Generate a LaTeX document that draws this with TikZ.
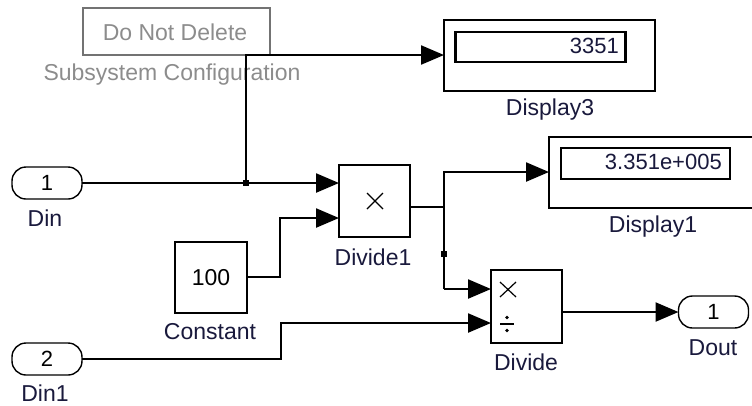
\documentclass[tikz,border=0pt]{standalone}
\usepackage{fontspec}
\setmainfont{Liberation Sans}
\usetikzlibrary{arrows.meta}
\definecolor{lbl}{RGB}{25,25,60}
\definecolor{gtext}{RGB}{140,140,140}
\definecolor{gbox}{RGB}{115,115,115}
\tikzset{
  blk/.style={draw=black, line width=2.2pt, fill=white, inner sep=0pt, outer sep=0pt},
  port/.style={draw=black, line width=1.4pt, rounded corners=14pt, inner sep=0pt, outer sep=0pt, minimum width=70pt, minimum height=32pt, font=\fontsize{22}{24}\selectfont},
  lab/.style={text=lbl, font=\fontsize{23}{26}\selectfont, inner sep=0pt},
  sig/.style={draw=black, line width=2.3pt},
  sigar/.style={sig, -{Triangle[length=23pt,width=19pt]}},
  dot/.style={fill=black, minimum size=6.5pt, inner sep=0pt, draw=none},
  sym/.style={line width=1.2pt}
}
\begin{document}
\begin{tikzpicture}[x=1pt,y=-1pt]
\useasboundingbox (0,0) rectangle (752,405);
\clip (0,0) rectangle (752,405);
% config block
\node[draw=gbox, line width=1.4pt, minimum width=187pt, minimum height=47pt, inner sep=0pt] (dnd) at (176.5,31.5) {};
\node[text=gtext, font=\fontsize{23}{26}\selectfont] (dndt) at (175,32) {Do Not Delete};
\node[text=gtext, font=\fontsize{23}{26}\selectfont] (subc) at (172,75) {Subsystem Configuration};
% ports
\node[port] (din) at (47,183) {1};
\node[lab] (dinl) at (45,218) {Din};
\node[port] (din1) at (47,359) {2};
\node[lab] (din1l) at (45,393) {Din1};
\node[port] (dout) at (713.5,312) {1};
\node[lab] (doutl) at (713,348) {Dout};
% constant
\node[blk, minimum width=72pt, minimum height=71pt, font=\fontsize{23}{26}\selectfont] (const) at (211,277.5) {100};
\node[lab] (constl) at (210,332) {Constant};
% Divide1
\node[blk, minimum width=71pt, minimum height=72pt] (div1) at (374.5,201) {};
\draw[sym] (367,193) -- (383,209) (383,193) -- (367,209);
\node[lab] (div1l) at (373,257) {Divide1};
% Divide
\node[blk, minimum width=71pt, minimum height=73pt] (div) at (526.5,306.5) {};
\draw[sym] (500,282) -- (516,297) (516,282) -- (500,297);
\draw[sym] (500,324) -- (514,324);
\fill (507,317.5) circle (1.9pt) (507,330.5) circle (1.9pt);
\node[lab] (divl) at (526,362) {Divide};
% Display3
\node[blk, minimum width=211pt, minimum height=71pt] (disp3) at (549.5,55.5) {};
\node[draw=black, line width=2.2pt, minimum width=170pt, minimum height=30pt, inner sep=0pt] (disp3in) at (540.5,47) {};
\node[anchor=east, font=\fontsize{22}{24}\selectfont, text=lbl, inner sep=0pt] (v3) at (619,46) {3351};
\node[lab] (disp3l) at (550,110) {Display3};
% Display1
\node[blk, minimum width=251pt, minimum height=71pt] (disp1) at (674.5,172.5) {};
\node[draw=black, line width=2.2pt, minimum width=169pt, minimum height=31pt, inner sep=0pt] (disp1in) at (645.5,163.5) {};
\node[anchor=east, font=\fontsize{22}{24}\selectfont, text=lbl, inner sep=0pt] (v1) at (722,162) {3.351e+005};
\node[lab] (disp1l) at (653,227) {Display1};
% coordinates
\coordinate (j1) at (246,183);
\coordinate (c1) at (246,55);
\coordinate (k1) at (280,277);
\coordinate (k2) at (280,218);
\coordinate (d1o) at (444,207);
\coordinate (d1u) at (444,172);
\coordinate (j2) at (444,254);
\coordinate (d1d) at (444,289);
\coordinate (m1) at (281,359);
\coordinate (m2) at (281,323);
% connectors
\draw[sigar] (din.east) -- (div1.west |- din.east);
\draw[sigar] (j1) -- (c1) -- (disp3.west |- c1);
\draw[sigar] (const.east |- k1) -- (k1) -- (k2) -- (div1.west |- k2);
\draw[sig] (div1.east |- d1o) -- (d1o);
\draw[sigar] (d1d) -- (d1u) -- (disp1.west |- d1u);
\draw[sigar] (d1d) -- (div.west |- d1d);
\draw[sigar] (din1.east) -- (m1) -- (m2) -- (div.west |- m2);
\draw[sigar] (div.east |- dout.west) -- (dout.west);
\node[dot] (jd1) at (j1) {};
\node[dot] (jd2) at (j2) {};
\end{tikzpicture}
\end{document}
